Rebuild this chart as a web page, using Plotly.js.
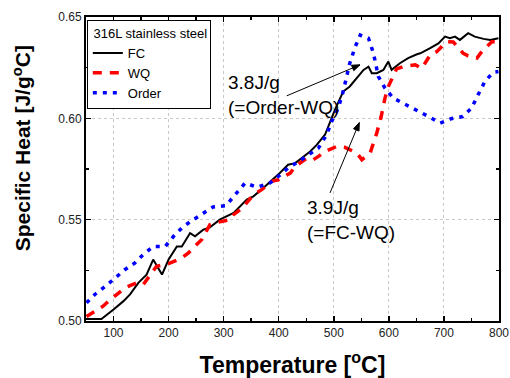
<!DOCTYPE html>
<html><head><meta charset="utf-8">
<script src="https://cdn.plot.ly/plotly-3.0.1.min.js"></script>
<style>html,body{margin:0;padding:0;background:#fff;}#chart{width:510px;height:378px;}</style>
</head><body><div id="chart"></div>
<script>
// FC (furnace cooled)
const fcT  = [50,78,100,118,130,145,160,172,181,188,200,215,224,239,248,263,275,293,318,342,354,372,402,417,430,445,457,469,484,502,517,529,542,554,563,569,578,590,599,605,620,635,651,657,675,690,702,711,720,729,744,756,772,784,799];
const fcCp = [0.501,0.501,0.5057,0.5098,0.5131,0.5188,0.5229,0.5303,0.5262,0.5229,0.5303,0.5368,0.5368,0.5434,0.5418,0.5451,0.5462,0.55,0.5533,0.5599,0.5615,0.5656,0.573,0.5771,0.5779,0.5812,0.5836,0.5869,0.5919,0.6042,0.6132,0.6157,0.6198,0.6239,0.6255,0.6223,0.6223,0.6239,0.628,0.6239,0.6272,0.6297,0.6316,0.6321,0.6346,0.637,0.6403,0.6395,0.6403,0.6387,0.642,0.6403,0.6392,0.6387,0.6395];
// WQ (water quenched)
const wqT  = [51,81,91,109,121,142,154,178,200,224,236,251,260,275,284,312,318,330,339,354,369,387,399,421,430,451,463,472,484,505,520,542,551,566,572,578,586,593,599,614,626,648,660,675,687,705,717,726,735,744,760,769,787,800];
const wqCp = [0.5022,0.5073,0.5098,0.5139,0.5164,0.5188,0.518,0.527,0.5283,0.5311,0.5336,0.5377,0.5401,0.5475,0.5484,0.55,0.5525,0.5549,0.5574,0.5623,0.5648,0.5689,0.5697,0.573,0.5763,0.5804,0.5796,0.5812,0.5836,0.5861,0.5857,0.5829,0.5796,0.5829,0.5878,0.5927,0.6009,0.61,0.6157,0.6244,0.6255,0.6264,0.6247,0.6313,0.6329,0.6378,0.6377,0.6352,0.6321,0.6308,0.6297,0.633,0.6378,0.6378];
// Order
const orT  = [51,66,85,103,121,139,154,172,194,209,227,245,263,281,304,321,339,361,384,399,417,436,454,472,487,496,508,517,529,539,548,563,572,581,593,608,632,657,672,693,713,734,750,762,775,790,799];
const orCp = [0.509,0.5131,0.5171,0.5213,0.5254,0.5287,0.5328,0.5368,0.5368,0.5418,0.5467,0.55,0.5533,0.5563,0.5569,0.5621,0.5681,0.566,0.5681,0.5713,0.5755,0.5787,0.582,0.5853,0.5919,0.5984,0.605,0.6132,0.6272,0.6354,0.6411,0.6395,0.6321,0.6206,0.6149,0.61,0.6066,0.6033,0.6009,0.5976,0.5998,0.6009,0.605,0.6116,0.6185,0.6227,0.6231];

const seriesNames = ['FC','WQ','Order'];
const legendTitle = '316L stainless steel';
const xTitle = 'Temperature [<sup>o</sup>C]';
const yTitle = 'Specific Heat [J/g<sup>o</sup>C]';
const note1 = '3.8J/g<br>(=Order-WQ)';
const note2 = '3.9J/g<br>(=FC-WQ)';

const FONT = 'Arial, Liberation Sans, sans-serif';

const traces = [
  {x: fcT, y: fcCp, name: seriesNames[0], mode: 'lines', line: {color: '#000000', width: 2}},
  {x: wqT, y: wqCp, name: seriesNames[1], mode: 'lines', line: {color: '#ff0000', width: 3.5, dash: '9px,8px'}},
  {x: orT, y: orCp, name: seriesNames[2], mode: 'lines', line: {color: '#0000ff', width: 3.5, dash: '4px,6px'}}
];

const axisCommon = {
  showline: true, linecolor: '#000', linewidth: 2, mirror: 'ticks',
  ticks: 'inside', ticklen: 5, tickwidth: 1.5, tickcolor: '#000',
  showgrid: true, gridcolor: '#c8c8c8', griddash: 'dot', gridwidth: 1,
  zeroline: false,
  tickfont: {family: FONT, size: 12, color: '#222'}
};

// arrow: line from tail to head plus a small pixel-sized head
function arrowShapes(tx, ty, hx, hy, headPath) {
  return [
    {type: 'line', xref: 'x', yref: 'y', x0: tx, y0: ty, x1: hx, y1: hy, line: {color: '#000', width: 1}},
    {type: 'path', xref: 'x', yref: 'y', xsizemode: 'pixel', ysizemode: 'pixel', xanchor: hx, yanchor: hy,
     path: headPath, fillcolor: '#000', line: {color: '#000', width: 1}}
  ];
}

const layout = {
  width: 510, height: 378,
  margin: {l: 86, r: 11, t: 17, b: 57},
  paper_bgcolor: '#fff', plot_bgcolor: '#fff',
  font: {family: FONT, color: '#000'},
  showlegend: true,
  legend: {
    x: 0.002, y: 0.99, xanchor: 'left', yanchor: 'top',
    bgcolor: '#fff', bordercolor: '#000', borderwidth: 1,
    font: {size: 13, color: '#000'},
    title: {text: '\u00a0' + legendTitle, font: {size: 13, color: '#000'}},
    itemwidth: 30, tracegroupgap: 0
  },
  xaxis: Object.assign({}, axisCommon, {
    range: [50, 800], tick0: 0, dtick: 100,
    minor: {ticks: 'inside', ticklen: 3, dtick: 50, tick0: 0, tickcolor: '#000', showgrid: false},
    title: {text: xTitle, font: {size: 23, color: '#000', family: FONT, weight: 'bold'}, standoff: 22}
  }),
  yaxis: Object.assign({}, axisCommon, {
    range: [0.5, 0.65], tick0: 0.5, dtick: 0.05, tickformat: '.2f',
    minor: {ticks: 'inside', ticklen: 3, dtick: 0.025, tick0: 0.5, tickcolor: '#000', showgrid: false}
  }),
  shapes: [].concat(
    arrowShapes(414.5, 0.6111, 547.6, 0.6264, 'M0,0 L-6.2,-5.9 L-8.5,-0.4 Z'),
    arrowShapes(493.1, 0.5632, 546.3, 0.5979, 'M0,0 L-0.3,-8.5 L-5.8,-6.2 Z')
  ),
  annotations: [
    {x: -0.155, y: 0.568, xref: 'paper', yref: 'paper', xanchor: 'center', yanchor: 'middle',
     textangle: -90, text: yTitle, showarrow: false,
     font: {size: 21, color: '#000', family: FONT, weight: 'bold'}},
    {x: 304, y: 0.6116, xref: 'x', yref: 'y', xanchor: 'left', yanchor: 'middle', align: 'left',
     text: note1, showarrow: false, font: {size: 19, color: '#000'}},
    {x: 447, y: 0.55, xref: 'x', yref: 'y', xanchor: 'left', yanchor: 'middle', align: 'left',
     text: note2, showarrow: false, font: {size: 19, color: '#000'}}
  ]
};

Plotly.newPlot('chart', traces, layout, {displayModeBar: false, staticPlot: true});
</script>
</body></html>
